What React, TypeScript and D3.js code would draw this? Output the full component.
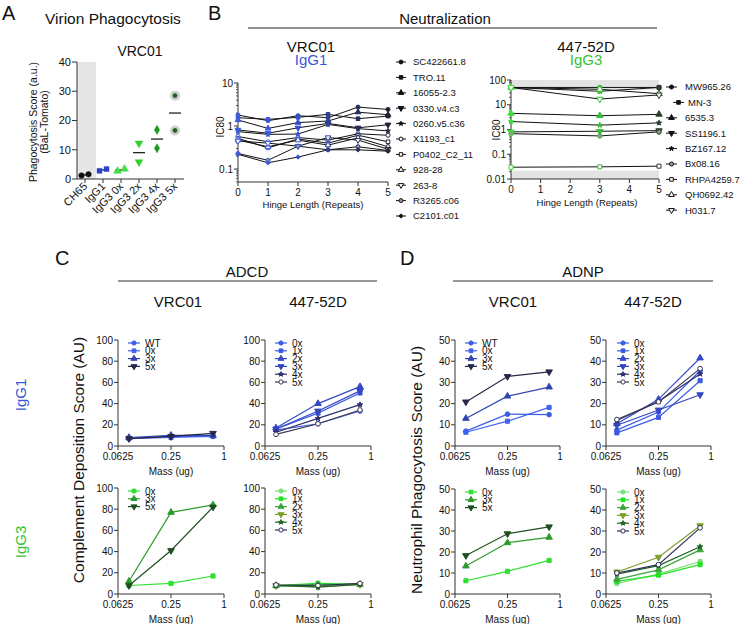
import React from "react";
import * as d3 from "d3";

const FONT = "'Liberation Sans', Arial, Helvetica, sans-serif";
const BLUE = "#3458d8";
const GREEN = "#35c435";

// ---------- Panel A: virion phagocytosis ----------
const aCategories = ["CH65", "IgG1", "IgG3 0x", "IgG3 2x", "IgG3 4x", "IgG3 5x"];
const aRep1 = [1.2, 2.8, 2.7, 12.2, 16.8, 28.5];
const aRep2 = [1.6, 3.4, 3.4, 5.8, 10.5, 16.6];
const aYTicks = [0, 10, 20, 30, 40];

// ---------- Panel B: neutralization ----------
const bVrcHinge = [0, 1, 2, 3, 4, 5];
const bVrcStrains = [
  "SC422661.8", "TRO.11", "16055-2.3", "0330.v4.c3", "0260.v5.c36", "X1193_c1",
  "P0402_C2_11", "928-28", "263-8", "R3265.c06", "C2101.c01",
];
const bVrcIC80 = [
  [1.8, 1.33, 1.74, 1.56, 2.75, 2.43],
  [1.56, 1.43, 1.59, 1.87, 1.48, 1.7],
  [1.38, 0.88, 1.2, 1.31, 2.1, 1.83],
  [0.81, 0.68, 0.91, 1.15, 0.91, 1.07],
  [0.74, 0.64, 0.65, 1.09, 0.87, 0.77],
  [0.57, 0.43, 0.54, 0.47, 0.66, 0.61],
  [0.52, 0.31, 0.5, 0.4, 0.61, 0.43],
  [0.47, 0.33, 0.47, 0.36, 0.53, 0.33],
  [0.45, 0.4, 0.34, 0.54, 0.47, 0.29],
  [0.23, 0.16, 0.34, 0.28, 0.33, 0.27],
  [0.22, 0.14, 0.19, 0.28, 0.28, 0.26],
];
const bVrcYTicks = [0.1, 1, 10];
const b447Hinge = [0, 3, 5];
const b447Strains = [
  "MW965.26", "MN-3", "6535.3", "SS1196.1", "BZ167.12", "Bx08.16",
  "RHPA4259.7", "QH0692.42", "H031.7",
];
const b447IC80 = [
  [50, 50, 50],
  [50, 35, 50],
  [4.5, 3.6, 4.1],
  [0.8, 0.85, 0.9],
  [2.1, 1.5, 1.85],
  [0.68, 0.55, 0.8],
  [0.03, 0.031, 0.033],
  [50, 42, 28],
  [50, 17, 25],
];
const b447YTicks = [0.01, 0.1, 1, 10, 100];
const bXTicks = [0, 1, 2, 3, 4, 5];

// ---------- Panels C/D: ADCD, ADNP ----------
const doseMass = [0.0833, 0.25, 0.75];
const doseTicks = [0.0625, 0.25, 1];
const doseTickLabels = ["0.0625", "0.25", "1"];
const vrcG1Labels = ["WT", "0x", "3x", "5x"];
const vrcG3Labels = ["0x", "3x", "5x"];
const hingeLabels = ["0x", "1x", "2x", "3x", "4x", "5x"];

const adcdVrcG1 = [[7.5, 9, 9], [7, 8, 9], [8, 10, 10], [7, 9, 12]];
const adcd447G1 = [[15, 21, 33], [16, 31, 50], [17, 40, 56], [16, 33, 52], [13, 26, 39], [11, 21, 34]];
const adcdVrcG3 = [[8, 10, 17], [12, 77, 84], [8, 41, 82]];
const adcd447G3 = [[7, 8, 9], [8, 10, 9], [8, 9, 9], [8, 7, 9], [8, 6.5, 9], [8.5, 8, 10]];

const adnpVrcG1 = [[7, 15, 14.8], [6.5, 11.7, 18.2], [13, 23.5, 27.8], [20.8, 32.8, 35]];
const adnp447G1 = [[7.5, 16, 35.5], [6.2, 13.5, 30.8], [10.5, 22, 41.5], [9.8, 17, 24.2], [12, 21, 34], [12.5, 20.8, 36.5]];
const adnpVrcG3 = [[6.3, 10.8, 16], [13.3, 24.4, 27], [18.3, 28.7, 32]];
const adnp447G3 = [[5, 9.5, 15.5], [6, 9, 14], [7, 11.5, 21], [10.5, 17.5, 32.5], [9.5, 13.5, 22.5], [10, 14, 31.5]];

// ---------- styles ----------
const SYM: Record<string, any> = {
  circle: d3.symbolCircle,
  square: d3.symbolSquare,
  triangle: d3.symbolTriangle,
  triangleDown: d3.symbolTriangle,
  diamond: d3.symbolDiamond,
  cross: d3.symbolCross,
  star: d3.symbolStar,
};
const SIZE_FACTOR: Record<string, number> = { star: 0.55, cross: 0.6, triangle: 1.1, triangleDown: 1.1 };

const vrcG1Style = {
  colors: ["#3a5de6", "#4063ee", "#3346b0", "#262848"],
  shapes: ["circle", "square", "triangle", "triangleDown"],
  fills: ["solid", "solid", "solid", "solid"],
};
const h447G1Style = {
  colors: ["#3a5de6", "#3b5ae0", "#3449c8", "#3446c0", "#2c2f70", "#3a3a55"],
  shapes: ["circle", "square", "triangle", "triangleDown", "star", "circle"],
  fills: ["solid", "solid", "solid", "solid", "solid", "open"],
};
const vrcG3Style = {
  colors: ["#2fe02f", "#2e9a2e", "#1f4f1f"],
  shapes: ["square", "triangle", "triangleDown"],
  fills: ["solid", "solid", "solid"],
};
const h447G3Style = {
  colors: ["#78e078", "#22e022", "#3aa63a", "#7ba02c", "#206220", "#2e2e5a"],
  shapes: ["circle", "square", "triangle", "triangleDown", "star", "circle"],
  fills: ["solid", "solid", "solid", "solid", "solid", "open"],
};
const bVrcShapes = ["circle", "square", "triangle", "triangleDown", "star", "circle", "square", "triangle", "triangleDown", "circle", "cross"];
const bVrcFills = ["solid", "solid", "solid", "solid", "solid", "open", "open", "open", "open", "half", "solid"];
const b447Shapes = ["circle", "square", "triangle", "triangleDown", "star", "circle", "square", "triangle", "triangleDown"];
const b447Fills = ["solid", "solid", "solid", "solid", "solid", "half", "open", "open", "open"];
const bVrcHingeColors = ["#3b5bdb", "#3b5bdb", "#3550c8", "#2e3f93", "#262d5a", "#222233"];
const b447HingeColors = ["#3ddc3d", "#3ab83a", "#2c3d2c"];

function Mark({ shape, x, y, size = 20, color, fill = "solid", sw = 1 }: any) {
  const d = d3.symbol(SYM[shape], size * (SIZE_FACTOR[shape] ?? 1))() as string;
  const rot = shape === "triangleDown" ? " rotate(180)" : "";
  const f = fill === "open" ? "#fff" : fill === "half" ? "#999" : color;
  return <path d={d} transform={`translate(${x},${y})${rot}`} fill={f} stroke={color} strokeWidth={sw} />;
}

function DosePlot({ left, top, w, h, ymax, ystep, labels, values, style, legX, legY }: any) {
  const x = d3.scaleLog().base(2).domain([0.0625, 1]).range([left, left + w]);
  const y = d3.scaleLinear().domain([0, ymax]).range([top + h, top]);
  const yt = d3.range(0, ymax + 1e-9, ystep);
  const line = d3.line<number>().x((_, i) => x(doseMass[i])).y((d) => y(d));
  return (
    <g>
      <g stroke="#333" strokeWidth={1}>
        <line x1={left} x2={left} y1={top} y2={top + h} />
        <line x1={left} x2={left + w} y1={top + h} y2={top + h} />
        {yt.map((t: number) => (
          <line key={t} x1={left - 4} x2={left} y1={y(t)} y2={y(t)} />
        ))}
        {doseTicks.map((t) => (
          <line key={t} x1={x(t)} x2={x(t)} y1={top + h} y2={top + h + 4} />
        ))}
      </g>
      {yt.map((t: number) => (
        <text key={t} x={left - 5} y={y(t)} dy="0.35em" textAnchor="end" fontSize={10}>{t}</text>
      ))}
      {doseTickLabels.map((l, i) => (
        <text key={l} x={x(doseTicks[i])} y={top + h + 14} textAnchor="middle" fontSize={10}>{l}</text>
      ))}
      <text x={left + w / 2} y={top + h + 29} textAnchor="middle" fontSize={10}>Mass (ug)</text>
      {values.map((v: number[], i: number) => (
        <path key={i} d={line(v) as string} fill="none" stroke={style.colors[i]} strokeWidth={1.2} />
      ))}
      {values.map((v: number[], i: number) =>
        v.map((d, j) => (
          <Mark key={i + "-" + j} shape={style.shapes[i]} x={x(doseMass[j])} y={y(d)} size={17}
            color={style.colors[i]} fill={style.fills[i]} />
        ))
      )}
      {labels.map((l: string, i: number) => (
        <g key={l}>
          <line x1={legX} x2={legX + 12} y1={legY + i * 7.8} y2={legY + i * 7.8} stroke={style.colors[i]} strokeWidth={1.2} />
          <Mark shape={style.shapes[i]} x={legX + 6} y={legY + i * 7.8} size={14} color={style.colors[i]} fill={style.fills[i]} />
          <text x={legX + 17} y={legY + i * 7.8} dy="0.35em" fontSize={10}>{l}</text>
        </g>
      ))}
    </g>
  );
}

function PanelA() {
  const x = d3.scalePoint().domain(aCategories).range([85, 175]);
  const y = d3.scaleLinear().domain([0, 40]).range([179, 62]);
  const aColors = ["#111", "#2a3fd0", "#44dd44", "#2fcf2f", "#1f9a1f", "#1d5e1d"];
  const aShapes = ["circle", "square", "triangle", "triangleDown", "diamond", "circle"];
  return (
    <g>
      <text x={2} y={20} fontSize={20}>A</text>
      <text x={45} y={24} fontSize={15.5}>Virion Phagocytosis</text>
      <text x={140} y={56} fontSize={14} textAnchor="middle">VRC01</text>
      <rect x={77} y={62} width={19} height={117} fill="#e6e6e6" />
      <g stroke="#333" strokeWidth={1}>
        <line x1={77} x2={77} y1={62} y2={179} />
        <line x1={77} x2={184} y1={179} y2={179} />
        {aYTicks.map((t) => <line key={t} x1={72} x2={77} y1={y(t)} y2={y(t)} />)}
        {aCategories.map((c) => <line key={c} x1={x(c)} x2={x(c)} y1={179} y2={183} />)}
      </g>
      {aYTicks.map((t) => (
        <text key={t} x={71} y={y(t)} dy="0.35em" textAnchor="end" fontSize={11}>{t}</text>
      ))}
      {aCategories.map((c) => (
        <text key={c} x={(x(c) as number) + 3} y={187} fontSize={11} textAnchor="end"
          transform={`rotate(-45 ${(x(c) as number) + 3} 187)`}>{c}</text>
      ))}
      <text transform="translate(37,122) rotate(-90)" fontSize={10.5} textAnchor="middle">Phagocytosis Score (a.u.)</text>
      <text transform="translate(48,122) rotate(-90)" fontSize={10.5} textAnchor="middle">(BaL-Tomato)</text>
      {aCategories.map((c, i) => {
        const cx = x(c) as number;
        const m = d3.mean([aRep1[i], aRep2[i]]) as number;
        const off = Math.abs(aRep1[i] - aRep2[i]) < 2 ? 3.5 : 0;
        return (
          <g key={c}>
            <line x1={cx - 6} x2={cx + 6} y1={y(m)} y2={y(m)} stroke="#111" strokeWidth={1.2} />
            {[aRep1[i], aRep2[i]].map((v, j) => (
              <g key={j}>
                {i === 5 && <circle cx={cx} cy={y(v)} r={5} fill="#bbb" opacity={0.7} />}
                <Mark shape={aShapes[i]} x={cx + (j === 0 ? -off : off)} y={y(v)} size={i === 5 ? 14 : 24}
                  color={aColors[i]} sw={0.5} />
              </g>
            ))}
          </g>
        );
      })}
    </g>
  );
}

function LogTicks({ scale, x, lo, hi }: any) {
  const minors: number[] = [];
  for (let e = Math.floor(Math.log10(lo)); e < Math.log10(hi); e++) {
    for (let k = 2; k <= 9; k++) {
      const v = k * Math.pow(10, e);
      if (v >= lo && v <= hi) minors.push(v);
    }
  }
  return (
    <g stroke="#333" strokeWidth={0.8}>
      {minors.map((v) => <line key={v} x1={x - 2} x2={x} y1={scale(v)} y2={scale(v)} />)}
    </g>
  );
}

function PanelB() {
  const xL = d3.scaleLinear().domain([0, 5]).range([238, 388]);
  const yL = d3.scaleLog().domain([0.05, 10]).range([182, 83]);
  const xR = d3.scaleLinear().domain([0, 5]).range([511, 659]);
  const yR = d3.scaleLog().domain([0.01, 100]).range([179, 80]);
  const lineL = d3.line<number>().x((_, i) => xL(bVrcHinge[i])).y((d) => yL(d));
  const lineR = d3.line<number>().x((_, i) => xR(b447Hinge[i])).y((d) => yR(d));
  return (
    <g>
      <text x={208} y={20} fontSize={20}>B</text>
      <text x={445} y={24} fontSize={15} textAnchor="middle">Neutralization</text>
      <line x1={248} x2={657} y1={28} y2={28} stroke="#222" strokeWidth={1} />
      <text x={311} y={52} fontSize={15} textAnchor="middle">VRC01</text>
      <text x={311} y={65} fontSize={15} textAnchor="middle" fill={BLUE}>IgG1</text>
      <text x={586} y={52} fontSize={15} textAnchor="middle">447-52D</text>
      <text x={586} y={65} fontSize={15} textAnchor="middle" fill={GREEN}>IgG3</text>

      {/* left plot */}
      <g stroke="#333" strokeWidth={1}>
        <line x1={238} x2={238} y1={83} y2={182} />
        <line x1={238} x2={388} y1={182} y2={182} />
        {bVrcYTicks.map((t) => <line key={t} x1={234} x2={238} y1={yL(t)} y2={yL(t)} />)}
        {bXTicks.map((t) => <line key={t} x1={xL(t)} x2={xL(t)} y1={182} y2={186} />)}
      </g>
      <LogTicks scale={yL} x={238} lo={0.05} hi={10} />
      {bVrcYTicks.map((t) => (
        <text key={t} x={233} y={yL(t)} dy="0.35em" textAnchor="end" fontSize={10}>{String(t)}</text>
      ))}
      {bXTicks.map((t) => (
        <text key={t} x={xL(t)} y={196} textAnchor="middle" fontSize={10}>{t}</text>
      ))}
      <text x={313} y={208} textAnchor="middle" fontSize={9.5}>Hinge Length (Repeats)</text>
      <text transform="translate(224,127) rotate(-90)" textAnchor="middle" fontSize={10}>IC80</text>
      {bVrcIC80.map((v, i) => (
        <path key={i} d={lineL(v) as string} fill="none" stroke="#111" strokeWidth={1} />
      ))}
      {bVrcIC80.map((v, i) =>
        v.map((d, j) => (
          <Mark key={i + "-" + j} shape={bVrcShapes[i]} x={xL(bVrcHinge[j])} y={yL(d)} size={13}
            color={bVrcHingeColors[j]} fill={bVrcFills[i]} />
        ))
      )}
      {bVrcStrains.map((s, i) => {
        const yy = 62 + i * 15.4;
        return (
          <g key={s}>
            <line x1={396} x2={406} y1={yy} y2={yy} stroke="#111" />
            <Mark shape={bVrcShapes[i]} x={401} y={yy} size={12} color="#111" fill={bVrcFills[i]} />
            <text x={413} y={yy} dy="0.35em" fontSize={9.5}>{s}</text>
          </g>
        );
      })}

      {/* right plot */}
      <rect x={511} y={yR(100)} width={148} height={yR(40) - yR(100)} fill="#e3e3e3" />
      <rect x={511} y={yR(0.022)} width={148} height={yR(0.01) - yR(0.022)} fill="#e3e3e3" />
      <g stroke="#333" strokeWidth={1}>
        <line x1={511} x2={511} y1={80} y2={179} />
        <line x1={511} x2={659} y1={179} y2={179} />
        {b447YTicks.map((t) => <line key={t} x1={507} x2={511} y1={yR(t)} y2={yR(t)} />)}
        {bXTicks.map((t) => <line key={t} x1={xR(t)} x2={xR(t)} y1={179} y2={183} />)}
      </g>
      <LogTicks scale={yR} x={511} lo={0.01} hi={100} />
      {b447YTicks.map((t) => (
        <text key={t} x={506} y={yR(t)} dy="0.35em" textAnchor="end" fontSize={10}>{String(t)}</text>
      ))}
      {bXTicks.map((t) => (
        <text key={t} x={xR(t)} y={193} textAnchor="middle" fontSize={10}>{t}</text>
      ))}
      <text x={587} y={206} textAnchor="middle" fontSize={9.5}>Hinge Length (Repeats)</text>
      <text transform="translate(500,130) rotate(-90)" textAnchor="middle" fontSize={10}>IC80</text>
      {b447IC80.map((v, i) => (
        <path key={i} d={lineR(v) as string} fill="none" stroke="#111" strokeWidth={1} />
      ))}
      {b447IC80.map((v, i) =>
        v.map((d, j) => (
          <Mark key={i + "-" + j} shape={b447Shapes[i]} x={xR(b447Hinge[j])} y={yR(d)} size={16}
            color={b447HingeColors[j]} fill={b447Fills[i]} />
        ))
      )}
      {b447Strains.map((s, i) => {
        const yy = 87 + i * 15.4;
        const dx = i === 1 ? 7 : 0;
        return (
          <g key={s}>
            <line x1={666 + dx} x2={677 + dx} y1={yy} y2={yy} stroke="#111" />
            <Mark shape={b447Shapes[i]} x={671.5 + dx} y={yy} size={13} color="#111" fill={b447Fills[i]} />
            <text x={685 + (i === 1 ? 3 : 0)} y={yy} dy="0.35em" fontSize={9.5}>{s}</text>
          </g>
        );
      })}
    </g>
  );
}

function PanelC() {
  return (
    <g>
      <text x={55} y={265} fontSize={20}>C</text>
      <text x={247} y={277} fontSize={15} textAnchor="middle">ADCD</text>
      <line x1={118} x2={377} y1={281} y2={281} stroke="#333" />
      <text x={178} y={307} fontSize={15} textAnchor="middle">VRC01</text>
      <text x={318} y={307} fontSize={15} textAnchor="middle">447-52D</text>
      <text transform="translate(26,395) rotate(-90)" fontSize={15} textAnchor="middle" fill={BLUE}>IgG1</text>
      <text transform="translate(26,542) rotate(-90)" fontSize={15} textAnchor="middle" fill={GREEN}>IgG3</text>
      <text transform="translate(84,460) rotate(-90)" fontSize={15.5} textAnchor="middle">Complement Deposition Score (AU)</text>
      <DosePlot left={118} top={340} w={106} h={106} ymax={100} ystep={20} labels={vrcG1Labels}
        values={adcdVrcG1} style={vrcG1Style} legX={128} legY={343} />
      <DosePlot left={265} top={340} w={106} h={106} ymax={100} ystep={20} labels={hingeLabels}
        values={adcd447G1} style={h447G1Style} legX={275} legY={343} />
      <DosePlot left={118} top={488} w={106} h={106} ymax={100} ystep={20} labels={vrcG3Labels}
        values={adcdVrcG3} style={vrcG3Style} legX={128} legY={491} />
      <DosePlot left={265} top={488} w={106} h={106} ymax={100} ystep={20} labels={hingeLabels}
        values={adcd447G3} style={h447G3Style} legX={275} legY={491} />
    </g>
  );
}

function PanelD() {
  return (
    <g>
      <text x={400} y={265} fontSize={20}>D</text>
      <text x={583} y={277} fontSize={15} textAnchor="middle">ADNP</text>
      <line x1={453} x2={713} y1={281} y2={281} stroke="#333" />
      <text x={513} y={307} fontSize={15} textAnchor="middle">VRC01</text>
      <text x={653} y={307} fontSize={15} textAnchor="middle">447-52D</text>
      <text transform="translate(422,470) rotate(-90)" fontSize={15.5} textAnchor="middle">Neutrophil Phagocytosis Score (AU)</text>
      <DosePlot left={455} top={340} w={105} h={106} ymax={50} ystep={10} labels={vrcG1Labels}
        values={adnpVrcG1} style={vrcG1Style} legX={465} legY={343} />
      <DosePlot left={606} top={340} w={105} h={106} ymax={50} ystep={10} labels={hingeLabels}
        values={adnp447G1} style={h447G1Style} legX={617} legY={343} />
      <DosePlot left={455} top={489} w={105} h={105} ymax={50} ystep={10} labels={vrcG3Labels}
        values={adnpVrcG3} style={vrcG3Style} legX={465} legY={492} />
      <DosePlot left={606} top={489} w={105} h={105} ymax={50} ystep={10} labels={hingeLabels}
        values={adnp447G3} style={h447G3Style} legX={617} legY={492} />
    </g>
  );
}

export default function App() {
  return (
    <svg width={740} height={624} viewBox="0 0 740 624"
      style={{ position: "absolute", left: 0, top: 0, background: "#fff" }}
      fontFamily={FONT} fill="#111">
      <rect width={740} height={624} fill="#fff" />
      <PanelA />
      <PanelB />
      <PanelC />
      <PanelD />
    </svg>
  );
}
